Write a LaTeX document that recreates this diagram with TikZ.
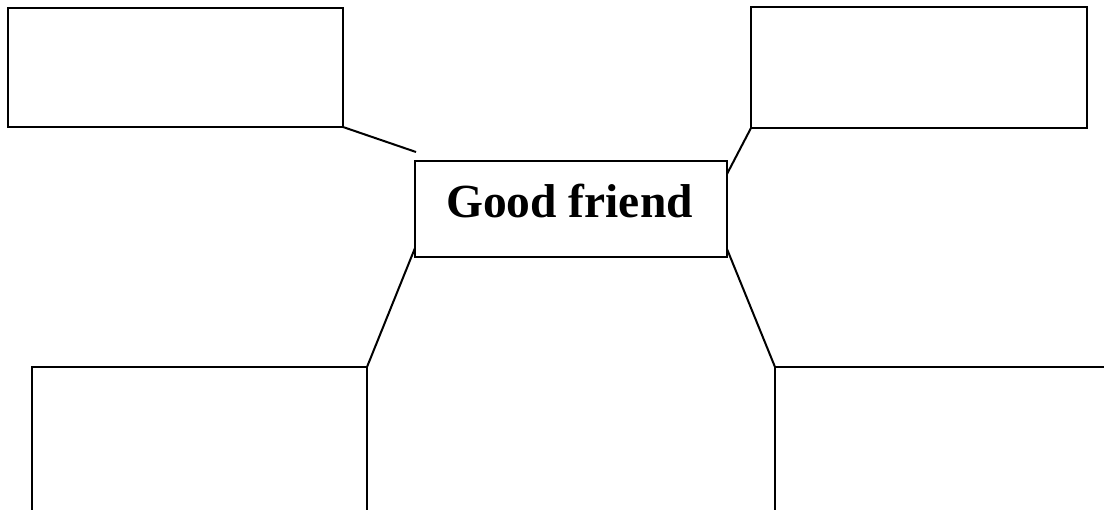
\documentclass[tikz,border=0pt]{standalone}
\usepackage{fontspec}
\setmainfont{Liberation Serif}
\begin{document}
\begin{tikzpicture}[x=1pt,y=-1pt,
  box/.style={draw=black,line width=2pt,inner sep=0pt,outer sep=0pt,anchor=north west},
  conn/.style={draw=black,line width=2pt}]
\useasboundingbox (0,0) rectangle (1104,510);
\clip (0,0) rectangle (1104,510);
\node[box,minimum width=335pt,minimum height=119pt] (tl) at (8,8) {};
\node[box,minimum width=336pt,minimum height=121pt] (tr) at (751,7) {};
\node[box,minimum width=312pt,minimum height=96pt] (c) at (415,161) {};
\node[font=\bfseries\fontsize{47.5}{50}\selectfont,inner sep=0pt,anchor=base] (t) at (569.5,218) {Good friend};
\node[box,minimum width=335pt,minimum height=200pt] (bl) at (32,367) {};
\node[box,minimum width=380pt,minimum height=200pt] (br) at (775,367) {};
\coordinate (e1) at (416,152);
\coordinate (e2) at (727,174);
\coordinate (e3) at (415,248);
\coordinate (e4) at (727,249);
\draw[conn] (tl.south east) -- (e1);
\draw[conn] (tr.south west) -- (e2);
\draw[conn] (e3) -- (bl.north east);
\draw[conn] (e4) -- (br.north west);
\end{tikzpicture}
\end{document}
